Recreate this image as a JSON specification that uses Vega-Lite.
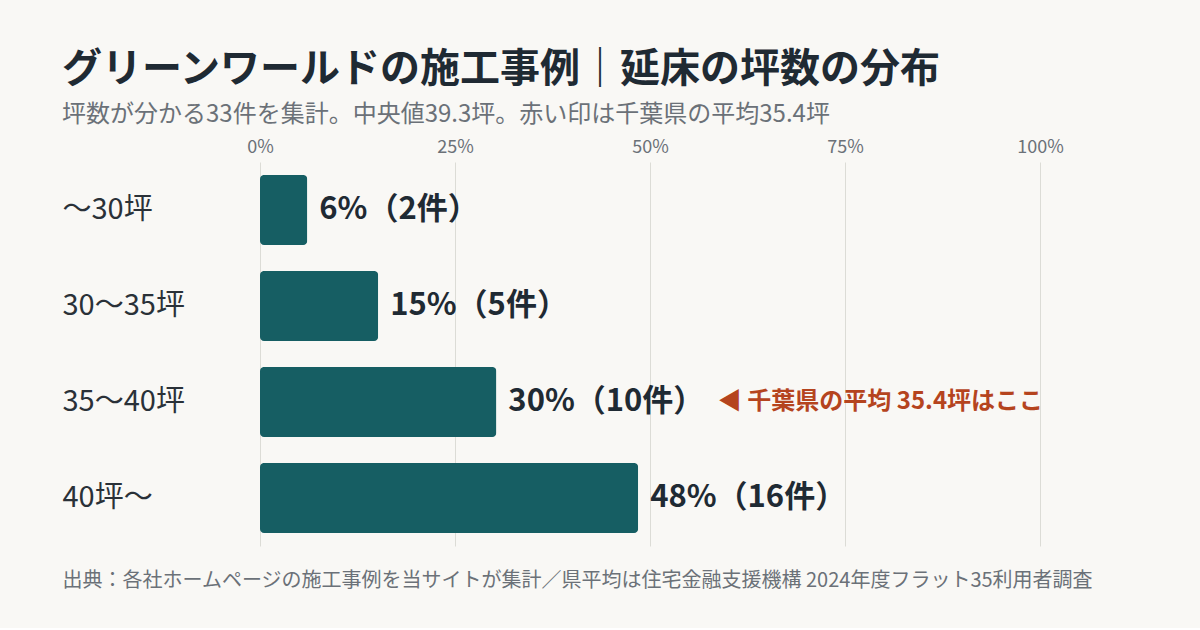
{
  "$schema": "https://vega.github.io/schema/vega-lite/v6.json",
  "width": 780,
  "height": 384,
  "padding": {"left": 62, "top": 50, "right": 134, "bottom": 38},
  "background": "#f9f8f5",
  "config": {
    "view": {"stroke": null},
    "font": "Noto Sans CJK JP"
  },
  "title": {
    "text": "グリーンワールドの施工事例｜延床の坪数の分布",
    "subtitle": "坪数が分かる33件を集計。中央値39.3坪。赤い印は千葉県の平均35.4坪",
    "anchor": "start",
    "frame": "bounds",
    "fontSize": 40,
    "fontWeight": "bold",
    "color": "#1f2a33",
    "subtitleFontSize": 24,
    "subtitleColor": "#6b7178",
    "subtitlePadding": 13,
    "offset": 11
  },
  "data": {
    "values": [
      {"bin": "〜30坪", "pct": 6.06, "label": "6%（2件）"},
      {"bin": "30〜35坪", "pct": 15.15, "label": "15%（5件）"},
      {"bin": "35〜40坪", "pct": 30.3, "label": "30%（10件）"},
      {"bin": "40坪〜", "pct": 48.48, "label": "48%（16件）"}
    ]
  },
  "encoding": {
    "y": {
      "field": "bin",
      "type": "nominal",
      "sort": null,
      "scale": {"paddingInner": 0.27, "paddingOuter": 0.135},
      "axis": {
        "title": null,
        "domain": false,
        "ticks": false,
        "labelAlign": "left",
        "labelPadding": 198,
        "labelFontSize": 29,
        "labelColor": "#2a3138"
      }
    }
  },
  "layer": [
    {
      "mark": {"type": "bar", "color": "#165e63", "cornerRadius": 4},
      "encoding": {
        "x": {
          "field": "pct",
          "type": "quantitative",
          "scale": {"domain": [0, 100]},
          "axis": {
            "orient": "top",
            "title": null,
            "values": [0, 25, 50, 75, 100],
            "labelExpr": "datum.value + '%'",
            "labelFlush": false,
            "domain": false,
            "ticks": false,
            "labelPadding": 6,
            "labelFontSize": 18,
            "labelColor": "#6b7178",
            "gridColor": "#dcdcd6",
            "gridWidth": 1
          }
        }
      }
    },
    {
      "mark": {
        "type": "text",
        "align": "left",
        "baseline": "middle",
        "dx": 12,
        "fontSize": 31,
        "fontWeight": "bold",
        "color": "#1f2a33"
      },
      "encoding": {
        "x": {"field": "pct", "type": "quantitative", "axis": null},
        "text": {"field": "label"}
      }
    },
    {
      "data": {"values": [{"bin": "35〜40坪", "note": "◀ 千葉県の平均 35.4坪はここ"}]},
      "mark": {
        "type": "text",
        "align": "left",
        "baseline": "middle",
        "fontSize": 24,
        "fontWeight": "bold",
        "color": "#b5441e"
      },
      "encoding": {
        "x": {
          "datum": 58.7,
          "type": "quantitative",
          "axis": {
            "orient": "bottom",
            "labels": false,
            "ticks": false,
            "domain": false,
            "grid": false,
            "title": "出典：各社ホームページの施工事例を当サイトが集計／県平均は住宅金融支援機構 2024年度フラット35利用者調査",
            "titleAnchor": "start",
            "titleAlign": "left",
            "titleX": -198,
            "titlePadding": 24,
            "titleFontSize": 20,
            "titleFontWeight": "normal",
            "titleColor": "#6b7178"
          }
        },
        "text": {"field": "note"}
      }
    }
  ],
  "resolve": {"axis": {"x": "independent"}}
}
